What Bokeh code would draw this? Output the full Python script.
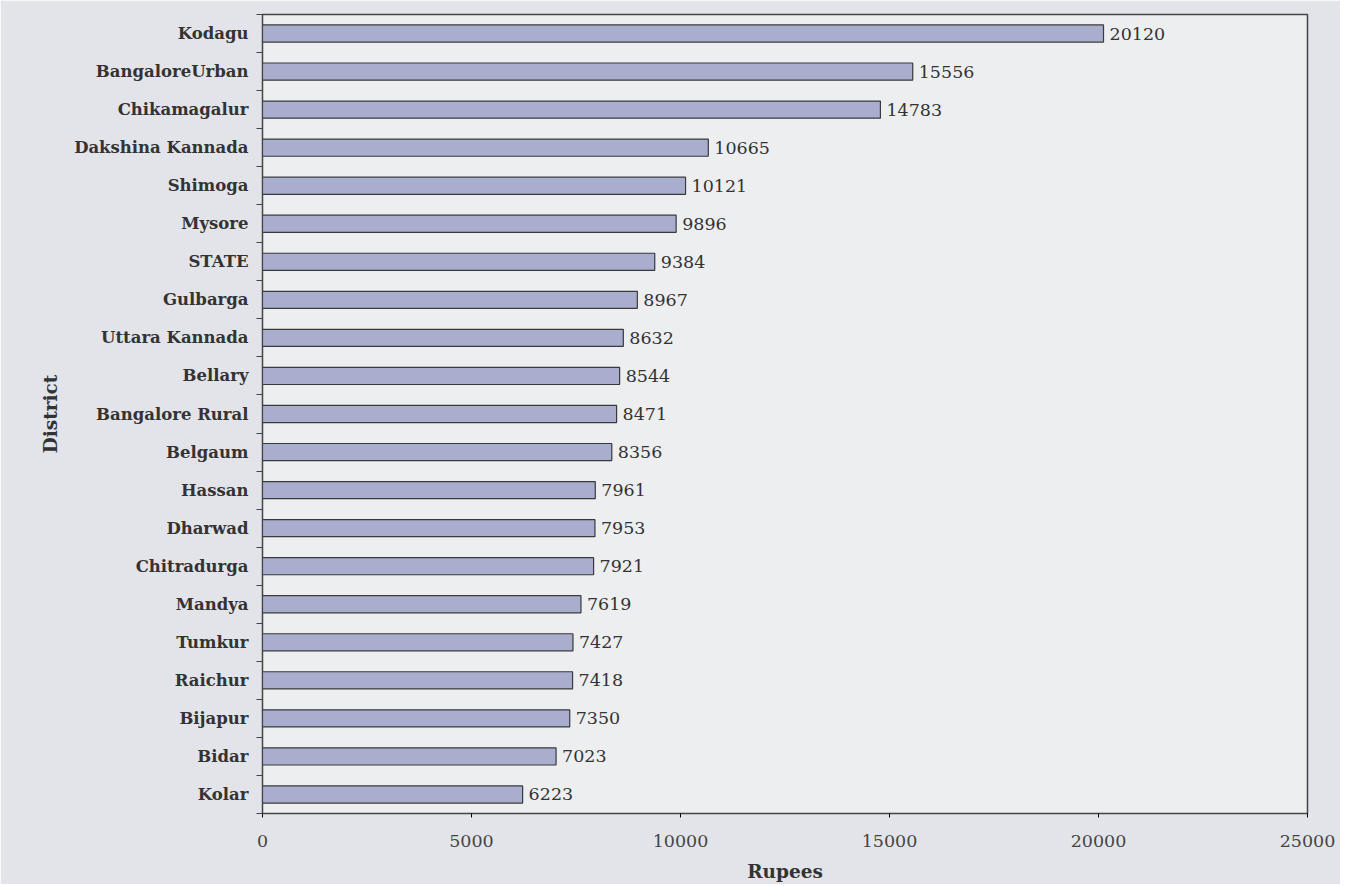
from bokeh.plotting import figure
from bokeh.models import FixedTicker, ColumnDataSource, LabelSet, Range1d
from bokeh.core.properties import value
from bokeh.embed import file_html
from bokeh.resources import INLINE

districts = ["Kodagu", "BangaloreUrban", "Chikamagalur", "Dakshina Kannada", "Shimoga",
             "Mysore", "STATE", "Gulbarga", "Uttara Kannada", "Bellary", "Bangalore Rural",
             "Belgaum", "Hassan", "Dharwad", "Chitradurga", "Mandya", "Tumkur", "Raichur",
             "Bijapur", "Bidar", "Kolar"]
rupees = [20120, 15556, 14783, 10665, 10121, 9896, 9384, 8967, 8632, 8544, 8471,
          8356, 7961, 7953, 7921, 7619, 7427, 7418, 7350, 7023, 6223]
x_ticks = [0, 5000, 10000, 15000, 20000, 25000]

n = len(districts)
pos = [n - 1 - i for i in range(n)]
src = ColumnDataSource(dict(y=pos, v=rupees, lab=[str(r) for r in rupees]))

FONT = "DejaVu Serif"
p = figure(frame_width=1045, frame_height=799, output_backend="svg", toolbar_location=None,
           x_range=Range1d(0, 25000), y_range=Range1d(-0.5, n - 0.5),
           min_border_left=262, min_border_top=14, min_border_right=33, min_border_bottom=65)
p.border_fill_color = "#e3e4e9"
p.background_fill_color = "#edeef0"
p.outline_line_color = "#444444"
p.outline_line_width = 1.5

p.hbar(y="y", right="v", left=0, height=0.45, source=src,
       fill_color="#a9aecf", line_color="#3a3a3a", line_width=1.2)

labels = LabelSet(x="v", y="y", text="lab", source=src, x_offset=6,
                  text_baseline="middle", text_font=value(FONT), text_font_size="17.5px",
                  text_color="#333333")
p.add_layout(labels)

p.xgrid.visible = False
p.ygrid.visible = False

p.xaxis.ticker = FixedTicker(ticks=x_ticks)
p.xaxis.axis_label = "Rupees"
p.xaxis.axis_label_text_font = FONT
p.xaxis.axis_label_text_font_style = "bold"
p.xaxis.axis_label_text_font_size = "18.5px"
p.xaxis.axis_label_text_color = "#333333"
p.xaxis.axis_label_standoff = 11
p.xaxis.major_label_text_font = FONT
p.xaxis.major_label_text_font_size = "17.5px"
p.xaxis.major_label_text_color = "#444444"
p.xaxis.major_label_standoff = 17
p.xaxis.major_tick_in = 0
p.xaxis.major_tick_out = 4
p.xaxis.minor_tick_line_color = None
p.xaxis.axis_line_color = "#444444"

p.yaxis.ticker = FixedTicker(ticks=pos, minor_ticks=[k - 0.5 for k in range(n + 1)])
p.yaxis.major_label_overrides = {pp: d for pp, d in zip(pos, districts)}
p.yaxis.major_tick_line_color = None
p.yaxis.minor_tick_in = 0
p.yaxis.minor_tick_out = 6
p.yaxis.minor_tick_line_color = "#444444"
p.yaxis.major_label_text_font = FONT
p.yaxis.major_label_text_font_style = "bold"
p.yaxis.major_label_text_font_size = "16.5px"
p.yaxis.major_label_text_color = "#333333"
p.yaxis.major_label_standoff = 8
p.yaxis.axis_label = "District"
p.yaxis.axis_label_text_font = FONT
p.yaxis.axis_label_text_font_style = "bold"
p.yaxis.axis_label_text_font_size = "18.5px"
p.yaxis.axis_label_text_color = "#333333"
p.yaxis.axis_label_standoff = 10
p.yaxis.axis_line_color = "#444444"

open("out.html", "w").write(file_html(p, INLINE))
